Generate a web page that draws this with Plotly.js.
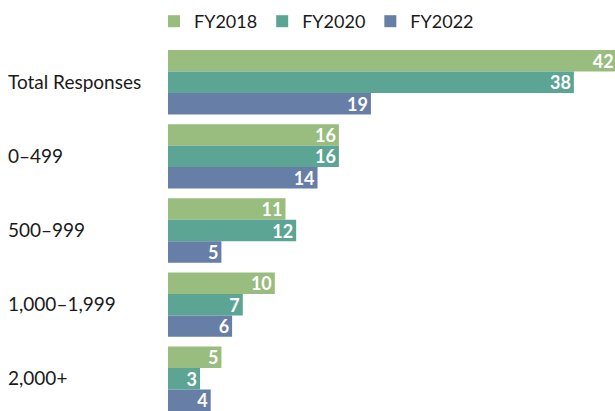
<!DOCTYPE html>
<html>
<head>
<meta charset="utf-8">
<script src="https://cdn.plot.ly/plotly-3.0.1.min.js"></script>
<style>
  html, body { margin: 0; padding: 0; background: white; }
  #chart { width: 615px; height: 411px; }
</style>
</head>
<body>
<div id="chart"></div>
<script>
// Survey responses by organisation size, three fiscal years
const categories = ['Total Responses', '0–499', '500–999', '1,000–1,999', '2,000+'];
const fy2018 = [42, 16, 11, 10, 5];
const fy2020 = [38, 16, 12, 7, 3];
const fy2022 = [19, 14, 5, 6, 4];

const seriesNames = ['FY2018', 'FY2020', 'FY2022'];
const seriesColors = ['#98BD7E', '#5CA595', '#677EA6'];

const FONT = 'Lato, "Open Sans", sans-serif';

const traces = [fy2018, fy2020, fy2022].map((vals, i) => ({
  type: 'bar',
  orientation: 'h',
  name: seriesNames[i],
  x: vals,
  y: categories,
  text: vals.map(String),
  textposition: 'inside',
  insidetextanchor: 'end',
  textangle: 0,
  constraintext: 'none',
  textfont: { family: FONT, size: 18, color: 'white', weight: 700 },
  marker: { color: seriesColors[i], line: { width: 0 } },
  hoverinfo: 'skip'
}));

// category labels sit flush left, so draw them as annotations
const labelAnnotations = categories.map(c => ({
  xref: 'paper', yref: 'y',
  x: 0, y: c,
  xshift: -162,
  yshift: 1,
  xanchor: 'left', yanchor: 'middle',
  text: c,
  showarrow: false,
  font: { family: FONT, size: 19, color: '#1a1a1a' }
}));

const layout = {
  width: 615,
  height: 411,
  margin: { l: 168, r: 0, t: 45, b: 0 },
  barmode: 'group',
  bargap: 0.13,
  bargroupgap: 0,
  font: { family: FONT, size: 18, color: '#1a1a1a' },
  xaxis: {
    range: [0, 41.85],
    showgrid: false, zeroline: false, showticklabels: false, ticks: ''
  },
  yaxis: {
    type: 'category',
    range: [4.435, -0.5025],
    showgrid: false, zeroline: false, showticklabels: false, ticks: ''
  },
  showlegend: true,
  legend: {
    orientation: 'h',
    xref: 'container', yref: 'container',
    x: 154 / 615, xanchor: 'left',
    y: 1 - 3 / 411, yanchor: 'top',
    font: { family: FONT, size: 18, color: '#1a1a1a' },
    traceorder: 'normal'
  },
  annotations: labelAnnotations,
  plot_bgcolor: 'white',
  paper_bgcolor: 'white'
};

Plotly.newPlot('chart', traces, layout, { displayModeBar: false, staticPlot: true });
</script>
</body>
</html>
